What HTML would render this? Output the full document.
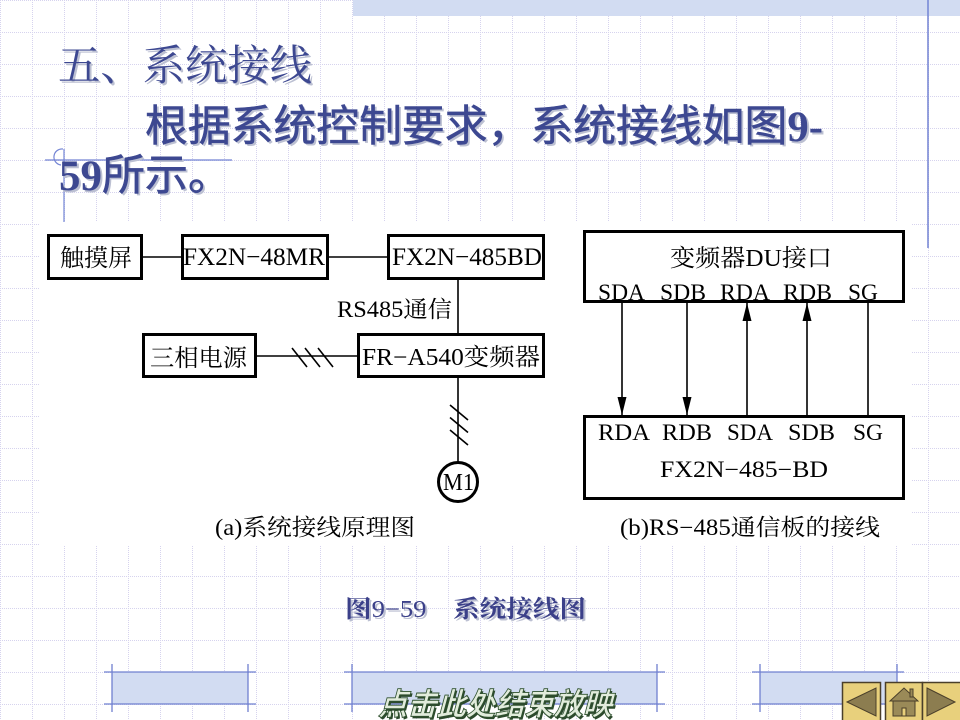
<!DOCTYPE html>
<html><head><meta charset="utf-8">
<style>
html,body{margin:0;padding:0;background:#fff;}
svg{display:block;}
.d{font-family:"Liberation Serif","Noto Serif CJK SC",serif;fill:#000;}
.t{font-family:"Liberation Serif","Noto Serif CJK SC",serif;}
</style></head><body>
<svg width="960" height="720" viewBox="0 0 960 720" xmlns="http://www.w3.org/2000/svg">
<defs>
<pattern id="g" width="32" height="32" patternUnits="userSpaceOnUse">
<line x1="0" y1="0.5" x2="32" y2="0.5" stroke="#d6d3ee" stroke-width="1" stroke-dasharray="1 1"/>
<line x1="0.5" y1="0" x2="0.5" y2="32" stroke="#d6d3ee" stroke-width="1" stroke-dasharray="1 1"/>
</pattern>
</defs>
<rect width="960" height="720" fill="#fff"/>
<rect width="960" height="720" fill="url(#g)"/>

<!-- top band -->
<rect x="353" y="0" width="607" height="16" fill="#d2dcf2"/>
<line x1="928" y1="0" x2="928" y2="248" stroke="#7384d4" stroke-width="1.5"/>

<!-- left crosshair -->
<line x1="45" y1="160" x2="232" y2="160" stroke="#7384d4" stroke-width="1.2"/>
<line x1="64" y1="149" x2="64" y2="224" stroke="#7384d4" stroke-width="1.2"/>
<path d="M63,149 A8,8 0 0 0 61,165" fill="none" stroke="#7384d4" stroke-width="1.2"/>

<!-- titles (shadow) -->
<g fill="#bcc0d2">
<text x="60" y="82" font-size="42" font-family="'Noto Serif CJK SC',serif" textLength="254" lengthAdjust="spacingAndGlyphs">五、系统接线</text>
<text x="147" y="143" font-size="43" font-family="'Liberation Serif','Noto Sans CJK SC',sans-serif" textLength="678" lengthAdjust="spacingAndGlyphs">根据系统控制要求，系统接线如图<tspan font-weight="bold">9-</tspan></text>
<text x="61" y="192" font-size="43" font-family="'Liberation Serif','Noto Sans CJK SC',sans-serif"><tspan font-weight="bold">59</tspan>所示。</text>
</g>
<g fill="#3d4891">
<text x="58" y="80" font-size="42" font-family="'Noto Serif CJK SC',serif" textLength="254" lengthAdjust="spacingAndGlyphs">五、系统接线</text>
<text x="145" y="141" font-size="43" font-family="'Liberation Serif','Noto Sans CJK SC',sans-serif" textLength="678" lengthAdjust="spacingAndGlyphs" stroke="#3d4891" stroke-width="0.6">根据系统控制要求，系统接线如图<tspan font-weight="bold" stroke-width="0">9-</tspan></text>
<text x="59" y="190" font-size="43" font-family="'Liberation Serif','Noto Sans CJK SC',sans-serif" stroke="#3d4891" stroke-width="0.6"><tspan font-weight="bold" stroke-width="0">59</tspan>所示。</text>
</g>

<!-- diagram background -->
<rect x="40" y="222" width="872" height="324" fill="#fff"/>

<!-- boxes -->
<g fill="none" stroke="#000" stroke-width="3">
<rect x="48.5" y="235.5" width="93" height="43"/>
<rect x="182.5" y="235.5" width="145" height="43"/>
<rect x="388.5" y="235.5" width="155" height="43"/>
<rect x="143.5" y="334.5" width="112" height="42"/>
<rect x="358.5" y="334.5" width="185" height="42"/>
<circle cx="458" cy="482" r="19.5"/>
<rect x="584.5" y="231.5" width="319" height="70"/>
<rect x="584.5" y="416.5" width="319" height="82"/>
</g>
<g stroke="#000" stroke-width="1.6" fill="none">
<line x1="143" y1="257" x2="181" y2="257"/>
<line x1="329" y1="257" x2="387" y2="257"/>
<line x1="458" y1="280" x2="458" y2="333"/>
<line x1="257" y1="356" x2="357" y2="356"/>
<line x1="458" y1="378" x2="458" y2="462"/>
<line x1="292" y1="348" x2="307" y2="367"/>
<line x1="305" y1="348" x2="320" y2="367"/>
<line x1="318" y1="348" x2="333" y2="367"/>
<line x1="450" y1="405" x2="468" y2="420"/>
<line x1="450" y1="417.5" x2="468" y2="432.5"/>
<line x1="450" y1="430" x2="468" y2="445"/>
<line x1="622" y1="303" x2="622" y2="415"/>
<line x1="687" y1="303" x2="687" y2="415"/>
<line x1="747" y1="303" x2="747" y2="415"/>
<line x1="807" y1="303" x2="807" y2="415"/>
<line x1="868" y1="303" x2="868" y2="415"/>
</g>
<g fill="#000">
<polygon points="617.5,397 626.5,397 622,415"/>
<polygon points="682.5,397 691.5,397 687,415"/>
<polygon points="742.5,321 751.5,321 747,303"/>
<polygon points="802.5,321 811.5,321 807,303"/>
</g>

<!-- (a) texts -->
<g class="d">
<text x="60" y="266" font-size="24" textLength="72" lengthAdjust="spacingAndGlyphs">触摸屏</text>
<text x="183" y="265" font-size="25" textLength="142" lengthAdjust="spacingAndGlyphs">FX2N−48MR</text>
<text x="392" y="265" font-size="25" textLength="150" lengthAdjust="spacingAndGlyphs">FX2N−485BD</text>
<text x="337" y="317" font-size="23" textLength="115" lengthAdjust="spacingAndGlyphs">RS485通信</text>
<text x="150" y="366" font-size="24" textLength="97" lengthAdjust="spacingAndGlyphs">三相电源</text>
<text x="362" y="365" font-size="24" textLength="178" lengthAdjust="spacingAndGlyphs">FR−A540变频器</text>
<text x="443" y="490" font-size="24" textLength="31" lengthAdjust="spacingAndGlyphs">M1</text>
<text x="215" y="535" font-size="23" textLength="200" lengthAdjust="spacingAndGlyphs">(a)系统接线原理图</text>

<!-- (b) texts -->
<text x="670" y="266" font-size="24" textLength="162" lengthAdjust="spacingAndGlyphs">变频器DU接口</text>
<text x="598" y="300" font-size="23" textLength="47" lengthAdjust="spacingAndGlyphs">SDA</text>
<text x="660" y="300" font-size="23" textLength="46" lengthAdjust="spacingAndGlyphs">SDB</text>
<text x="720" y="300" font-size="23" textLength="50" lengthAdjust="spacingAndGlyphs">RDA</text>
<text x="783" y="300" font-size="23" textLength="49" lengthAdjust="spacingAndGlyphs">RDB</text>
<text x="848" y="300" font-size="23" textLength="30" lengthAdjust="spacingAndGlyphs">SG</text>
<text x="598" y="440" font-size="23" textLength="52" lengthAdjust="spacingAndGlyphs">RDA</text>
<text x="662" y="440" font-size="23" textLength="50" lengthAdjust="spacingAndGlyphs">RDB</text>
<text x="727" y="440" font-size="23" textLength="46" lengthAdjust="spacingAndGlyphs">SDA</text>
<text x="788" y="440" font-size="23" textLength="47" lengthAdjust="spacingAndGlyphs">SDB</text>
<text x="853" y="440" font-size="23" textLength="30" lengthAdjust="spacingAndGlyphs">SG</text>
<text x="660" y="477" font-size="23" textLength="168" lengthAdjust="spacingAndGlyphs">FX2N−485−BD</text>
<text x="620" y="535" font-size="23" textLength="260" lengthAdjust="spacingAndGlyphs">(b)RS−485通信板的接线</text>
</g>

<!-- figure caption -->
<text x="347" y="619" font-size="24" fill="#bcc0d2" class="t" font-weight="bold" textLength="241" lengthAdjust="spacingAndGlyphs">图<tspan font-weight="normal">9−59</tspan>　系统接线图</text>
<text x="345" y="617" font-size="24" fill="#3b4089" class="t" font-weight="bold" textLength="241" lengthAdjust="spacingAndGlyphs">图<tspan font-weight="normal">9−59</tspan>　系统接线图</text>

<!-- bottom bars -->
<g fill="#d2dcf2">
<rect x="112" y="672" width="136" height="32"/>
<rect x="352" y="672" width="305" height="32"/>
<rect x="760" y="672" width="137" height="32"/>
</g>
<g stroke="#6f80d0" stroke-width="1.3">
<line x1="104" y1="672" x2="256" y2="672"/>
<line x1="104" y1="704" x2="256" y2="704"/>
<line x1="112" y1="664" x2="112" y2="712"/>
<line x1="248" y1="664" x2="248" y2="712"/>
<line x1="344" y1="672" x2="665" y2="672"/>
<line x1="344" y1="704" x2="665" y2="704"/>
<line x1="352" y1="664" x2="352" y2="712"/>
<line x1="657" y1="664" x2="657" y2="712"/>
<line x1="752" y1="672" x2="904" y2="672"/>
<line x1="752" y1="704" x2="904" y2="704"/>
<line x1="760" y1="664" x2="760" y2="712"/>
<line x1="897" y1="664" x2="897" y2="712"/>
</g>

<!-- wordart -->
<g transform="translate(378,715) skewX(-15)" font-family="'Noto Sans CJK SC',sans-serif" font-weight="bold" font-size="31">
<text x="2" y="2" fill="#2c4a2c" textLength="234" lengthAdjust="spacingAndGlyphs">点击此处结束放映</text>
<text x="0" y="0" fill="#e2ecdc" stroke="#2f512f" stroke-width="0.9" textLength="234" lengthAdjust="spacingAndGlyphs">点击此处结束放映</text>
</g>

<!-- nav buttons -->
<g stroke="#4a3f2a" stroke-width="1.5">
<rect x="842.5" y="682.5" width="38" height="40" fill="#e8d07c"/>
<rect x="885.5" y="682.5" width="37" height="40" fill="#e8d07c"/>
<rect x="922.5" y="682.5" width="40" height="40" fill="#e8d07c"/>
<polygon points="847,702 876,688 876,716" fill="#8c7d50" stroke-width="1"/>
<polygon points="927,688 955,702 927,716" fill="#8c7d50" stroke-width="1"/>
<polygon points="890,701 904,688 918,701" fill="#9a8a58" stroke-width="1"/>
<rect x="910" y="689" width="3" height="8" fill="#9a8a58" stroke-width="1"/>
<rect x="893" y="701" width="22" height="15" fill="#9a8a58" stroke-width="1"/>
<rect x="902" y="708" width="4" height="8" fill="#e8d07c" stroke-width="1"/>
</g>
</svg>
</body></html>
